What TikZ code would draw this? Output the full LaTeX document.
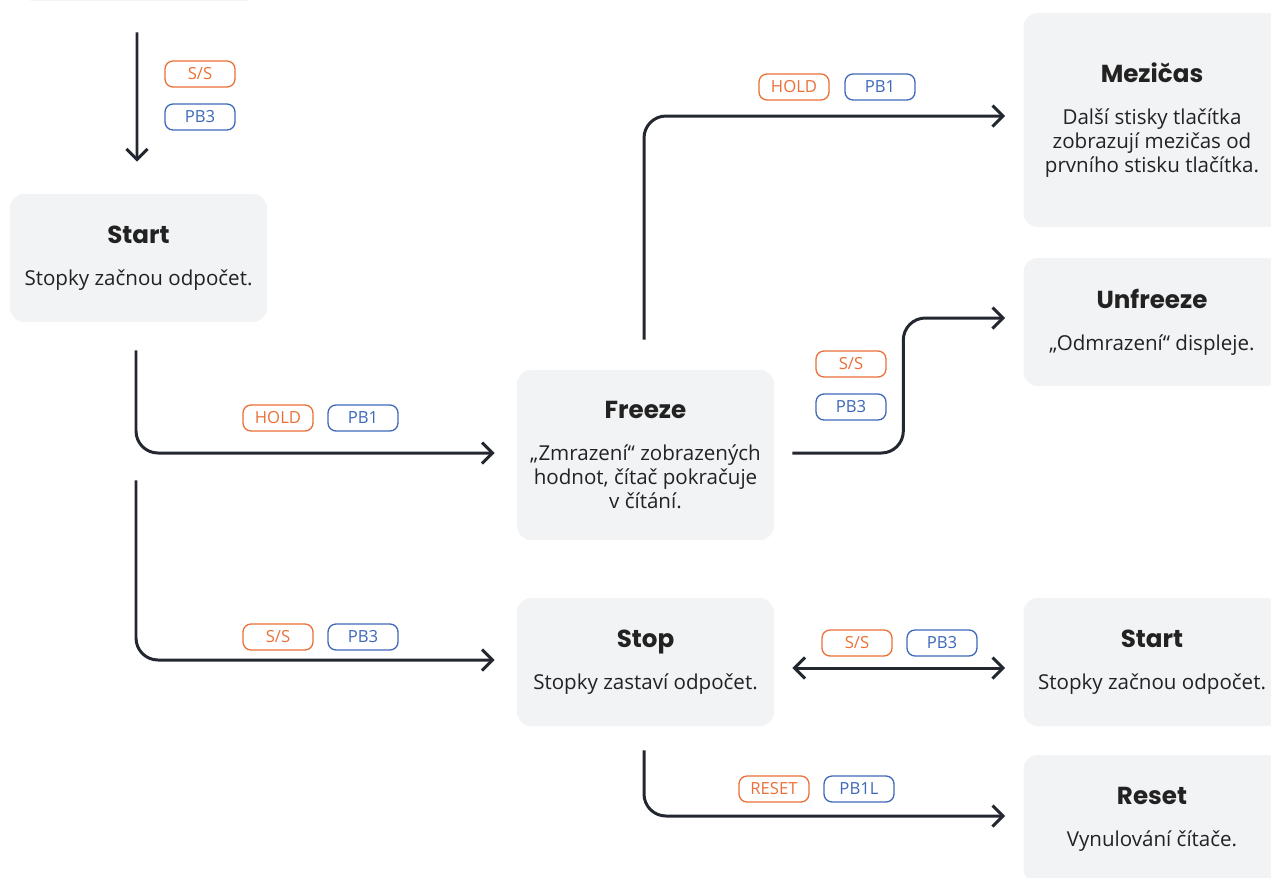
\documentclass[tikz,border=0pt]{standalone}
\usepackage{fontspec}
\setmainfont{Open Sans}
\newfontfamily\titlefont{Poppins}
\usetikzlibrary{arrows.meta,positioning}
\definecolor{boxgray}{RGB}{242,243,245}
\definecolor{linedark}{RGB}{35,39,47}
\definecolor{keyorange}{RGB}{234,112,56}
\definecolor{btnblue}{RGB}{62,104,184}
\definecolor{textdark}{RGB}{34,34,34}
\newcommand{\ttl}[1]{{\titlefont\bfseries\fontsize{14}{16}\selectfont #1}\\[10.5pt]}

\begin{document}
\begin{tikzpicture}[x=0.02cm,y=-0.02cm,
  state/.style={fill=boxgray,rounded corners=0.28cm,minimum width=5.14cm,minimum height=2.56cm,
    inner sep=0pt,align=center,text=textdark,font=\fontsize{11.7}{13.6}\selectfont},
  pill/.style={draw,rounded corners=0.16cm,line width=0.75pt,minimum width=1.4cm,minimum height=0.52cm,
    inner sep=0pt,font=\fontsize{9.5}{11}\selectfont},
  keypill/.style={pill,keyorange,text=keyorange},
  btnpill/.style={pill,btnblue,text=btnblue},
  conn/.style={line width=1.7pt,linedark,rounded corners=0.44cm,-{Straight Barb[length=6pt,width=12pt]}}
]
  \useasboundingbox (0,0) rectangle (1271,877);
  \clip (0,0) rectangle (1271,877);

  % states
  \node[state,minimum width=4.76cm] (prev) at (139,-63) {};
  \node[state] (start) at (138.5,258) {\ttl{Start}Stopky začnou odpočet.};
  \node[state,minimum height=3.4cm] (freeze) at (645.5,455)
    {\ttl{Freeze}„Zmrazení“ zobrazených\\hodnot, čítač pokračuje\\v čítání.};
  \node[state] (stop) at (645.5,662) {\ttl{Stop}Stopky zastaví odpočet.};
  \node[state,minimum height=4.28cm] (mezicas) at (1152,120)
    {\ttl{Mezičas}Další stisky tlačítka\\zobrazují mezičas od\\prvního stisku tlačítka.};
  \node[state] (unfreeze) at (1152,322) {\ttl{Unfreeze}„Odmrazení“ displeje.};
  \node[state] (startb) at (1152,662) {\ttl{Start}Stopky začnou odpočet.};
  \node[state] (reset) at (1152,819) {\ttl{Reset}Vynulování čítače.};

  % transitions
  \draw[conn,shorten <=0.62cm,shorten >=0.64cm] ([xshift=-0.04cm]prev.south) -- ([xshift=-0.03cm]start.north);
  \draw[conn,shorten >=0.44cm] ([xshift=-0.05cm,yshift=-0.56cm]start.south) |- ([yshift=0.04cm]freeze.west);
  \draw[conn,shorten >=0.44cm] ([xshift=-0.05cm,yshift=-3.16cm]start.south) |- ([yshift=0.04cm]stop.west);
  \draw[conn,shorten >=0.36cm] ([xshift=-0.03cm,yshift=0.6cm]freeze.north) |- ([yshift=0.08cm]mezicas.west);
  \draw[conn,shorten >=0.36cm] ([xshift=0.36cm,yshift=0.04cm]freeze.east) -- ++(111,0) |- ([yshift=0.08cm]unfreeze.west);
  \draw[conn,{Straight Barb[length=6pt,width=12pt]}-{Straight Barb[length=6pt,width=12pt]},
    shorten <=0.36cm,shorten >=0.36cm] ([yshift=-0.12cm]stop.east) -- ([yshift=-0.12cm]startb.west);
  \draw[conn,shorten >=0.36cm] ([xshift=-0.03cm,yshift=-0.48cm]stop.south) |- ([yshift=0.06cm]reset.west);

  % buttons
  \node[keypill] (ss1) at (200,74) {S/S};
  \node[btnpill] (pb3a) at (200,117) {PB3};
  \node[keypill] (hold1) at (278,418) {HOLD};
  \node[btnpill] (pb1a) at (363,418) {PB1};
  \node[keypill] (ss2) at (278,637) {S/S};
  \node[btnpill] (pb3b) at (363,637) {PB3};
  \node[keypill] (hold2) at (794,87) {HOLD};
  \node[btnpill] (pb1b) at (880,87) {PB1};
  \node[keypill] (ss3) at (851,364) {S/S};
  \node[btnpill] (pb3c) at (851,407) {PB3};
  \node[keypill] (ss4) at (857,643) {S/S};
  \node[btnpill] (pb3d) at (942,643) {PB3};
  \node[keypill] (rst) at (774,789) {RESET};
  \node[btnpill] (pb1l) at (859,789) {PB1L};
\end{tikzpicture}
\end{document}
